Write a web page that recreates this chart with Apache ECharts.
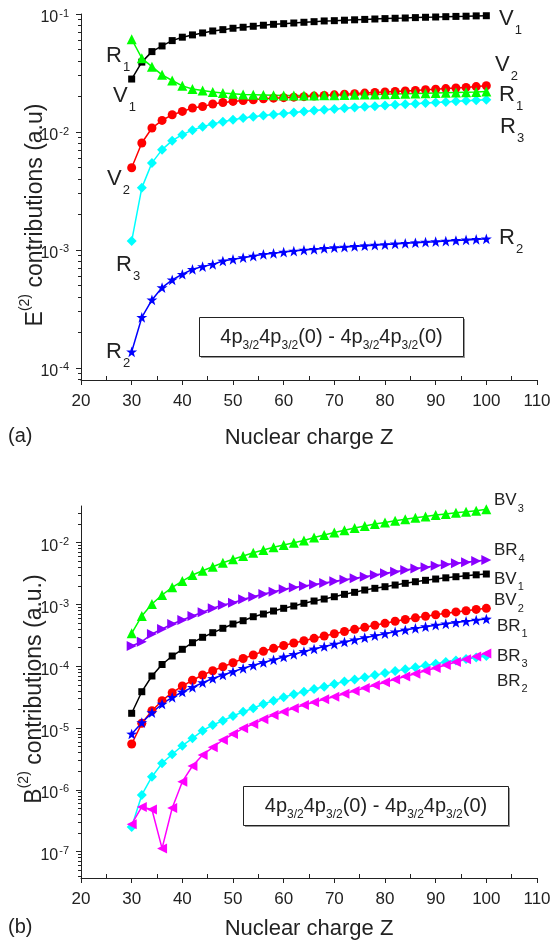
<!DOCTYPE html>
<html><head><meta charset="utf-8">
<script src="https://cdn.jsdelivr.net/npm/echarts@6/dist/echarts.min.js"></script>
<style>html,body{margin:0;padding:0;background:#fff}#c{width:551px;height:943px}</style>
</head><body><div id="c"></div>
<script>
// ---------- data ----------
const Z = [30,32,34,36,38,40,42,44,46,48,50,52,54,56,58,60,62,64,66,68,70,72,74,76,78,80,82,84,86,88,90,92,94,96,98,100];
const xTicks = [20,30,40,50,60,70,80,90,100,110];

// panel (a)
const V1 = [0.0281,0.0391,0.0480,0.0536,0.0595,0.0636,0.0665,0.0691,0.0718,0.0737,0.0757,0.0772,0.0787,0.0803,0.0818,0.0828,0.0839,0.0851,0.0861,0.0873,0.0878,0.0886,0.0893,0.0900,0.0907,0.0914,0.0920,0.0925,0.0932,0.0938,0.0943,0.0949,0.0954,0.0958,0.0964,0.0967];
const V2 = [0.00497,0.00807,0.0108,0.01253,0.0140,0.01493,0.01596,0.01644,0.01725,0.01778,0.01815,0.0185,0.01875,0.0191,0.01934,0.01953,0.01972,0.01991,0.02015,0.02039,0.02063,0.02087,0.02112,0.02137,0.02162,0.02183,0.02204,0.02226,0.02252,0.02278,0.02305,0.02332,0.0236,0.02387,0.02425,0.02463];
const R1 = [0.0611,0.0422,0.0358,0.0305,0.0273,0.0246,0.0231,0.0225,0.0218,0.0214,0.0211,0.0208,0.0207,0.0206,0.0205,0.0204,0.0204,0.0204,0.0204,0.0205,0.0205,0.0206,0.0207,0.0208,0.0208,0.0209,0.0210,0.0211,0.0212,0.0213,0.0214,0.0215,0.0216,0.0217,0.0218,0.0220];
const R2 = [0.000137,0.000268,0.000377,0.00048,0.000557,0.000622,0.000685,0.000722,0.000755,0.000806,0.000833,0.00086,0.000888,0.000918,0.000936,0.00096,0.000979,0.000998,0.001012,0.001031,0.001046,0.001058,0.001071,0.001085,0.001098,0.001111,0.001124,0.001137,0.001151,0.001164,0.001175,0.001189,0.001203,0.001217,0.001229,0.001243];
const R3 = [0.00119,0.00336,0.00547,0.00708,0.00844,0.00949,0.01036,0.01109,0.01171,0.01222,0.0127,0.01313,0.01347,0.01379,0.01409,0.01437,0.01465,0.01491,0.01517,0.01541,0.01565,0.0159,0.01611,0.01633,0.01656,0.01679,0.01698,0.01718,0.01738,0.01759,0.0178,0.01797,0.01818,0.01836,0.01857,0.01875];
const yTicksA = [1e-4,1e-3,1e-2,1e-1];

// panel (b)
const BV1 = [1.736e-5,3.88e-5,6.97e-5,1.069e-4,1.468e-4,1.884e-4,2.41e-4,2.946e-4,3.498e-4,4.12e-4,4.84e-4,5.47e-4,6.35e-4,7.02e-4,7.85e-4,8.68e-4,9.46e-4,1.046e-3,1.139e-3,1.227e-3,1.337e-3,1.462e-3,1.575e-3,1.716e-3,1.828e-3,1.941e-3,2.068e-3,2.203e-3,2.338e-3,2.464e-3,2.586e-3,2.704e-3,2.817e-3,2.924e-3,3.024e-3,3.115e-3];
const BV2 = [5.53e-6,1.196e-5,1.913e-5,2.776e-5,3.74e-5,4.80e-5,5.94e-5,7.23e-5,8.49e-5,9.85e-5,1.143e-4,1.337e-4,1.524e-4,1.748e-4,1.955e-4,2.17e-4,2.382e-4,2.596e-4,2.838e-4,3.092e-4,3.37e-4,3.656e-4,3.97e-4,4.277e-4,4.61e-4,4.96e-4,5.35e-4,5.72e-4,6.09e-4,6.465e-4,6.84e-4,7.21e-4,7.60e-4,7.94e-4,8.33e-4,8.68e-4];
const BV3 = [3.42e-4,6.52e-4,1.019e-3,1.426e-3,1.898e-3,2.40e-3,3.00e-3,3.52e-3,4.09e-3,4.75e-3,5.39e-3,6.09e-3,6.89e-3,7.62e-3,8.43e-3,9.18e-3,1.0e-2,1.085e-2,1.214e-2,1.332e-2,1.462e-2,1.587e-2,1.729e-2,1.863e-2,2.007e-2,2.123e-2,2.270e-2,2.392e-2,2.529e-2,2.655e-2,2.807e-2,2.913e-2,3.058e-2,3.174e-2,3.306e-2,3.471e-2];
const BR1 = [8.03e-6,1.223e-5,1.775e-5,2.455e-5,3.149e-5,3.838e-5,4.57e-5,5.43e-5,6.35e-5,7.23e-5,8.18e-5,9.28e-5,1.038e-4,1.152e-4,1.274e-4,1.414e-4,1.564e-4,1.735e-4,1.905e-4,2.09e-4,2.278e-4,2.472e-4,2.684e-4,2.902e-4,3.128e-4,3.37e-4,3.615e-4,3.866e-4,4.12e-4,4.372e-4,4.624e-4,4.872e-4,5.113e-4,5.35e-4,5.594e-4,5.83e-4];
const BR2 = [2.78e-7,5.29e-7,4.82e-7,1.13e-7,5.09e-7,1.357e-6,2.436e-6,3.669e-6,4.89e-6,6.42e-6,8.03e-6,9.93e-6,1.165e-5,1.388e-5,1.63e-5,1.842e-5,2.091e-5,2.365e-5,2.615e-5,2.924e-5,3.22e-5,3.589e-5,3.998e-5,4.437e-5,4.944e-5,5.508e-5,6.14e-5,6.84e-5,7.59e-5,8.46e-5,9.42e-5,1.05e-4,1.17e-4,1.303e-4,1.446e-4,1.611e-4];
const BR3 = [2.51e-7,8.27e-7,1.635e-6,2.694e-6,3.767e-6,5.19e-6,6.84e-6,9.08e-6,1.122e-5,1.317e-5,1.569e-5,1.842e-5,2.091e-5,2.455e-5,2.776e-5,3.149e-5,3.523e-5,3.88e-5,4.29e-5,4.675e-5,5.17e-5,5.655e-5,6.14e-5,6.66e-5,7.20e-5,7.76e-5,8.36e-5,8.98e-5,9.63e-5,1.03e-4,1.098e-4,1.17e-4,1.241e-4,1.312e-4,1.388e-4,1.468e-4];
const BR4 = [2.13e-4,2.50e-4,3.33e-4,4.01e-4,4.84e-4,5.61e-4,6.51e-4,7.48e-4,8.68e-4,9.81e-4,1.069e-3,1.213e-3,1.337e-3,1.479e-3,1.611e-3,1.762e-3,1.884e-3,1.992e-3,2.107e-3,2.228e-3,2.373e-3,2.509e-3,2.653e-3,2.816e-3,3.00e-3,3.197e-3,3.394e-3,3.617e-3,3.824e-3,4.0e-3,4.23e-3,4.44e-3,4.64e-3,4.82e-3,5.06e-3,5.25e-3];
const yTicksB = [1e-7,1e-6,1e-5,1e-4,1e-3,1e-2];

// ---------- styling / layout ----------
const FONT = '"Liberation Sans", Arial, Helvetica, sans-serif';
const TXT = '#222';
const XMIN = 20, XMAX = 110;
const YA = [7.9e-5, 0.1];
const YB = [3.75e-8, 0.0393];

function minorVals(lo, hi) {
  const out = [];
  for (let k = -9; k <= 0; k++) for (let m = 2; m <= 9; m++) {
    const v = m * Math.pow(10, k);
    if (v >= lo && v <= hi) out.push(v);
  }
  return out;
}
const xMinor = [25,35,45,55,65,75,85,95,105];

const STAR = 'path://M50,0L61.8,35.1L98.9,35.5L69.1,57.6L79.4,95.1L50,73.4L20.6,95.1L30.9,57.6L1.1,35.5L38.2,35.1Z';
const TRI_R = 'path://M0,0L10,5L0,10Z';
const TRI_L = 'path://M10,0L0,5L10,10Z';

function ser(vals, color, symbol, size, gi) {
  return {
    type: 'line', xAxisIndex: gi, yAxisIndex: gi,
    data: Z.map((z, i) => [z, vals[i]]),
    symbol: symbol, symbolSize: size, symbolKeepAspect: true,
    showSymbol: true, showAllSymbol: true,
    lineStyle: { color: color, width: 1.5 },
    itemStyle: { color: color, borderWidth: 0 },
    emphasis: { disabled: true }, silent: true
  };
}

function powFmt(v) {
  const e = Math.round(Math.log10(v));
  return '{b|10}{s|' + e + '}';
}
const powRich = {
  b: { fontSize: 16, lineHeight: 16, padding: [4, 0, 4, 0], verticalAlign: 'top', color: TXT, fontFamily: FONT },
  s: { fontSize: 11, lineHeight: 11, padding: [2, 0, 0, 1], verticalAlign: 'top', color: TXT, fontFamily: FONT }
};

function mainX(gi, nameGap) {
  return {
    type: 'value', gridIndex: gi, min: XMIN, max: XMAX, interval: 10,
    name: 'Nuclear charge Z', nameLocation: 'middle', nameGap: nameGap,
    nameTextStyle: { fontSize: 22, color: TXT, fontFamily: FONT },
    axisLine: { show: true, onZero: false, lineStyle: { color: TXT, width: 1 } },
    axisTick: { show: true, inside: false, length: 5, lineStyle: { color: TXT } },
    axisLabel: { show: true, margin: 13, fontSize: 17, color: TXT, fontFamily: FONT },
    splitLine: { show: false }
  };
}
function minorX(gi) {
  return {
    type: 'value', gridIndex: gi, min: XMIN, max: XMAX, position: 'bottom',
    axisLine: { show: false }, axisLabel: { show: false }, splitLine: { show: false },
    axisTick: { show: true, inside: true, length: 4, customValues: xMinor, lineStyle: { color: TXT } }
  };
}
function mainY(gi, ext, ticks) {
  return {
    type: 'log', logBase: 10, gridIndex: gi, min: ext[0], max: ext[1],
    axisLine: { show: true, onZero: false, lineStyle: { color: TXT, width: 1 } },
    axisTick: { show: true, inside: false, length: 5, customValues: ticks, lineStyle: { color: TXT } },
    axisLabel: { show: true, margin: 12, customValues: ticks, formatter: powFmt, rich: powRich, color: TXT, fontFamily: FONT },
    splitLine: { show: false }, minorTick: { show: false }
  };
}
function minorY(gi, ext) {
  return {
    type: 'log', logBase: 10, gridIndex: gi, min: ext[0], max: ext[1], position: 'left',
    axisLine: { show: false }, axisLabel: { show: false }, splitLine: { show: false },
    axisTick: { show: true, inside: false, length: 3, customValues: minorVals(ext[0], ext[1]), lineStyle: { color: TXT } }
  };
}

// label helper (series names with subscripts)
function seriesLabel(main, sub, x, cy, big) {
  const fs = big ? 22 : 17, ss = big ? 13 : 11, pad = big ? 16 : 11;
  return {
    type: 'text', x: x, y: cy - fs / 2, z: 50, silent: true,
    style: {
      text: '{m|' + main + '}{s|' + sub + '}', align: 'left', verticalAlign: 'top',
      rich: {
        m: { fontSize: fs, lineHeight: fs, verticalAlign: 'top', fill: TXT, fontFamily: FONT },
        s: { fontSize: ss, lineHeight: ss, padding: [pad, 0, 0, 1], verticalAlign: 'top', fill: TXT, fontFamily: FONT }
      }
    }
  };
}
const labelsA = [
  ['R','1',106,55.5], ['V','1',113,95.5], ['V','2',107,178.5], ['R','3',116,265], ['R','2',106,351.5],
  ['V','1',499,18.5], ['V','2',495,65], ['R','1',499,95], ['R','3',500,127], ['R','2',499,238]
];
const labelsB = [
  ['BV','3',494,500.5], ['BR','4',494,550.5], ['BV','1',494,579], ['BV','2',494,600.5],
  ['BR','1',497,626], ['BR','3',497,656], ['BR','2',497,681]
];

const boxText = '{m|4p}{s|3/2}{m|4p}{s|3/2}{m|(0) - 4p}{s|3/2}{m|4p}{s|3/2}{m|(0)}';
const boxRich = {
  m: { fontSize: 20, lineHeight: 22, verticalAlign: 'top', fill: TXT, fontFamily: FONT },
  s: { fontSize: 12, lineHeight: 12, padding: [13, 0, 0, 0], verticalAlign: 'top', fill: TXT, fontFamily: FONT }
};
function box(x, y, w, h) {
  return [
    { type: 'rect', z: 40, silent: true, shape: { x: x + 1.5, y: y + 1.5, width: w, height: h }, style: { fill: '#999', stroke: null } },
    { type: 'rect', z: 41, silent: true, shape: { x: x, y: y, width: w, height: h }, style: { fill: '#fff', stroke: '#222', lineWidth: 1 } },
    { type: 'text', z: 42, silent: true, x: x + w / 2, y: y + h / 2 + 1, style: { text: boxText, rich: boxRich, align: 'center', verticalAlign: 'middle' } }
  ];
}
function yTitle(letter, rest, cx, cy) {
  return {
    type: 'text', x: cx, y: cy, rotation: Math.PI / 2, z: 50, silent: true,
    style: {
      text: '{m|' + letter + '}{p|(2)}{m| ' + rest + '}', align: 'center', verticalAlign: 'middle',
      rich: {
        m: { fontSize: 23, lineHeight: 23, padding: [6, 0, 0, 0], verticalAlign: 'top', fill: TXT, fontFamily: FONT },
        p: { fontSize: 14, lineHeight: 14, verticalAlign: 'top', fill: TXT, fontFamily: FONT }
      }
    }
  };
}

const graphics = []
  .concat(labelsA.map(l => seriesLabel(l[0], l[1], l[2], l[3], true)))
  .concat(labelsB.map(l => seriesLabel(l[0], l[1], l[2], l[3], false)))
  .concat(box(199.5, 317.5, 264, 39))
  .concat(box(243.5, 786.5, 265, 39))
  .concat([
    yTitle('E', 'contributions (a.u)', 30, 215),
    yTitle('B', 'contributions (a.u.)', 29, 689),
    { type: 'text', x: 8, y: 436, silent: true, style: { text: '(a)', fontSize: 20, fill: TXT, fontFamily: FONT, verticalAlign: 'middle' } },
    { type: 'text', x: 8, y: 927, silent: true, style: { text: '(b)', fontSize: 20, fill: TXT, fontFamily: FONT, verticalAlign: 'middle' } }
  ]);

const chart = echarts.init(document.getElementById('c'), null, { renderer: 'canvas' });
chart.setOption({
  animation: false,
  backgroundColor: '#fff',
  grid: [
    { left: 81, right: 14, top: 14, height: 366, containLabel: false, outerBoundsMode: 'none' },
    { left: 81, right: 14, top: 506, height: 372, containLabel: false, outerBoundsMode: 'none' }
  ],
  xAxis: [mainX(0, 47), minorX(0), mainX(1, 40), minorX(1)].map((a, i) => Object.assign(a, { gridIndex: i < 2 ? 0 : 1 })),
  yAxis: [mainY(0, YA, yTicksA), minorY(0, YA), mainY(1, YB, yTicksB), minorY(1, YB)].map((a, i) => Object.assign(a, { gridIndex: i < 2 ? 0 : 1 })),
  series: [
    ser(V1, '#000000', 'rect', 7, 0),
    ser(V2, '#ff0000', 'circle', 9, 0),
    ser(R3, '#00ffff', 'diamond', 10, 0),
    ser(R2, '#0000ff', STAR, 11, 0),
    ser(R1, '#00ff00', 'triangle', 10, 0),

    ser(BV3, '#00ff00', 'triangle', 10, 2),
    ser(BR4, '#8a00ff', TRI_R, 10, 2),
    ser(BV1, '#000000', 'rect', 7, 2),
    ser(BV2, '#ff0000', 'circle', 9, 2),
    ser(BR1, '#0000ff', STAR, 11, 2),
    ser(BR3, '#00ffff', 'diamond', 10, 2),
    ser(BR2, '#ff00ff', TRI_L, 10, 2)
  ],
  graphic: graphics
});
</script></body></html>
